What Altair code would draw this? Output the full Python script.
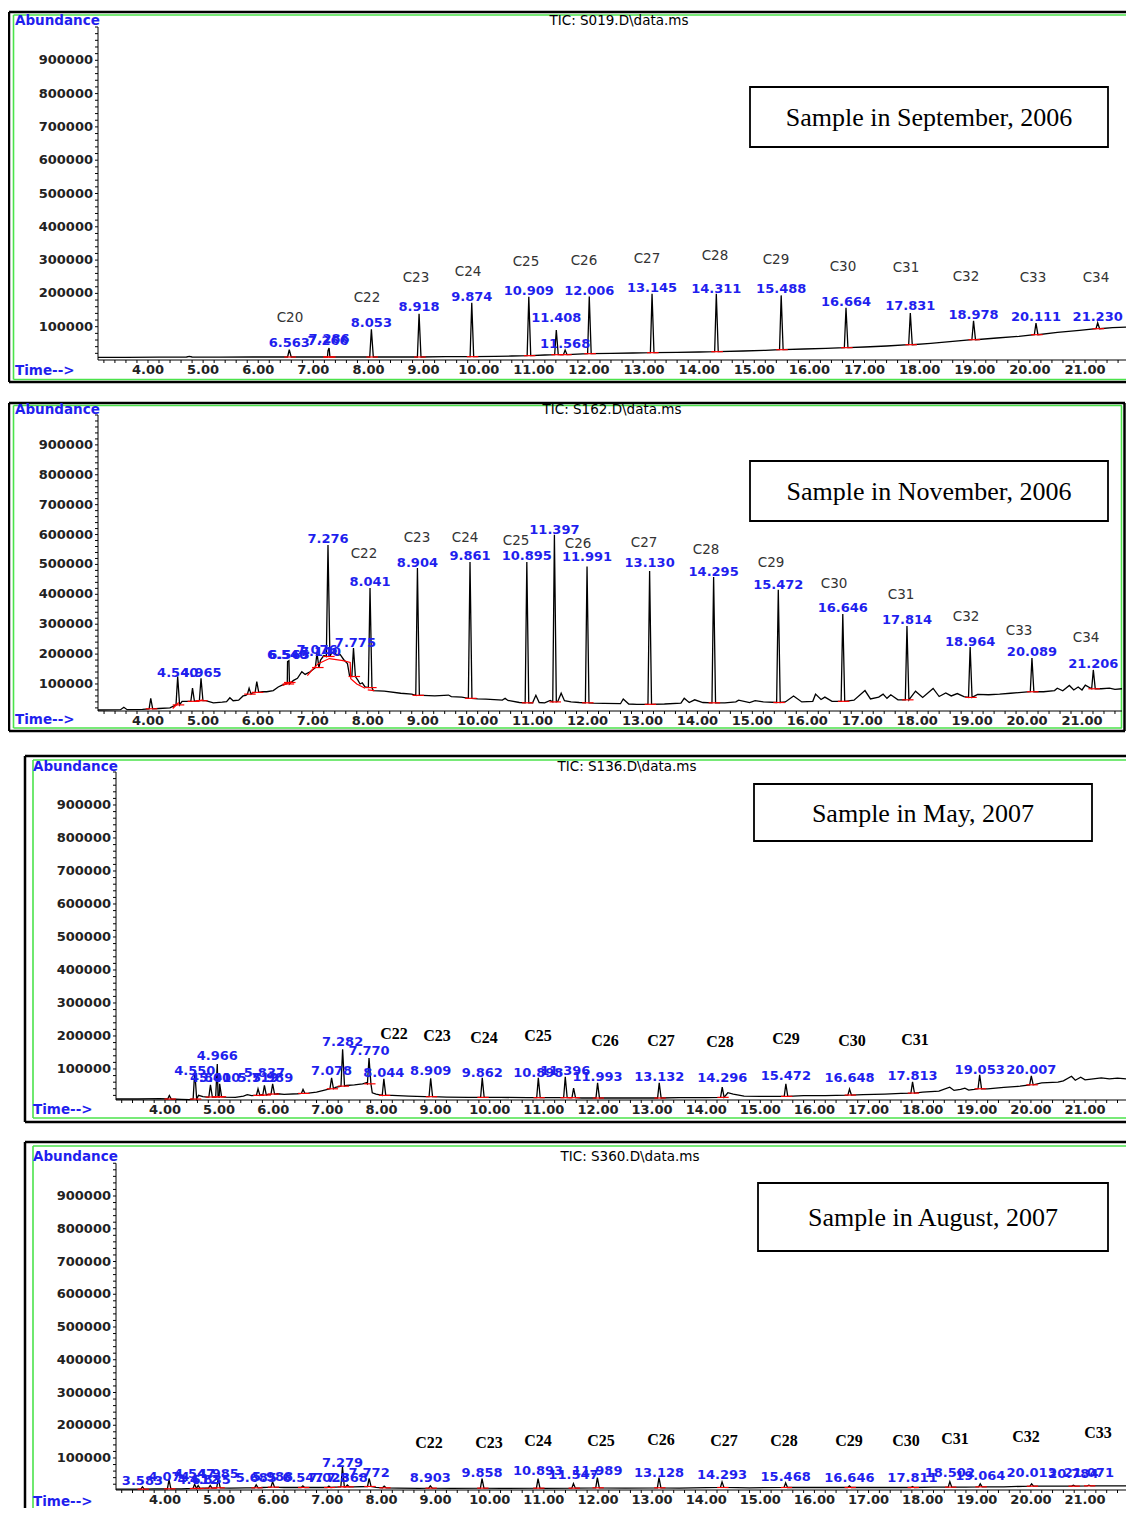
import altair as alt
import pandas as pd

BLUE = "#1f1fee"
GREEN = "#4be34b"
FONT = "DejaVu Sans"
SERIF = "Liberation Serif"
W = 1118
HT = 1500

# axis tick values (shared by all four chromatograms)
X_MINOR = [round(3.2 + 0.2 * i, 1) for i in range(94)]
X_LABELS = list(range(4, 22))
Y_MINOR = list(range(20000, 1000001, 20000))
Y_LABELS = list(range(100000, 900001, 100000))

# ---------------- Panel 1: Sample in September, 2006 ----------------
P1_TITLE = "TIC: S019.D\\data.ms"
P1_SAMPLE = "Sample in September, 2006"
P1_BASE = [(3.093, 8000), (3.6, 8000), (4.2, 8500), (4.7, 9000), (4.75, 11000), (4.8, 9000),
           (5.3, 8500), (5.9, 9000), (6.3, 9000), (6.9, 9000), (7.6, 9000), (8.4, 9000),
           (9.4, 10000), (10.3, 11000), (10.6, 12000), (11.2, 15000), (11.7, 17000),
           (12.4, 20000), (12.8, 21000), (13.6, 23000), (14.0, 24000), (14.8, 27000),
           (15.2, 29000), (15.9, 33000), (16.3, 35000), (17.0, 39000), (17.4, 42000),
           (18.2, 50000), (18.6, 56000), (19.4, 66000), (19.8, 71000), (20.5, 83000),
           (20.9, 89000), (21.5, 97000), (21.744, 99000)]
P1_PEAKS = [(6.563, 31000, 9000), (7.266, 28000, 9000), (7.286, 36000, 9000),
            (8.053, 92000, 9000), (8.918, 139000, 9000), (9.874, 172000, 10000),
            (10.909, 190000, 13000), (11.408, 90000, 16000), (11.568, 30000, 16000),
            (12.006, 191000, 19000), (13.145, 199000, 22000), (14.311, 199000, 25000),
            (15.488, 194000, 31000), (16.664, 157000, 37000), (17.831, 141000, 46000),
            (18.978, 118000, 61000), (20.111, 111000, 76000), (21.230, 112000, 94000)]
P1_LABELS = [("6.563", 52000), ("7.266", 56000), ("7.286", 64000), ("8.053", 112000),
             ("8.918", 160000), ("9.874", 190000), ("10.909", 208000), ("11.408", 127000),
             ("11.568", 49000), ("12.006", 208000), ("13.145", 217000), ("14.311", 214000),
             ("15.488", 214000), ("16.664", 175000), ("17.831", 163000), ("18.978", 136000),
             ("20.111", 130000), ("21.230", 130000)]
P1_CN = [("C20", 6.576, 127000), ("C22", 7.973, 187000), ("C23", 8.862, 247000),
         ("C24", 9.806, 265000), ("C25", 10.858, 295000), ("C26", 11.910, 298000),
         ("C27", 13.053, 304000), ("C28", 14.287, 313000), ("C29", 15.393, 301000),
         ("C30", 16.609, 280000), ("C31", 17.752, 277000), ("C32", 18.840, 250000),
         ("C33", 20.056, 247000), ("C34", 21.199, 247000)]

# ---------------- Panel 2: Sample in November, 2006 ----------------
P2_TITLE = "TIC: S162.D\\data.ms"
P2_SAMPLE = "Sample in November, 2006"
P2_BASE = [(3.09, 13000), (3.5, 14000), (3.56, 22000), (3.62, 14000), (3.9, 15000), (4.2, 18000),
           (4.4, 20000), (4.62, 42000), (4.72, 42000), (4.88, 43000), (5.05, 44000), (5.19, 37000),
           (5.35, 39000), (5.43, 41000), (5.49, 54000), (5.55, 44000), (5.65, 46000), (5.73, 60000),
           (5.78, 62000), (5.9, 70000), (6.08, 74000), (6.16, 74000), (6.28, 78000), (6.37, 90000),
           (6.44, 96000), (6.65, 112000), (6.72, 119000), (6.8, 141000), (6.86, 132000),
           (6.95, 141000), (7.14, 180000), (7.2, 195000), (7.34, 203000), (7.38, 208000),
           (7.44, 196000), (7.5, 198000), (7.56, 182000), (7.63, 168000), (7.67, 126000),
           (7.82, 113000), (7.86, 100000), (7.9, 104000), (7.95, 90000), (8.1, 78000),
           (8.3, 76000), (8.6, 69000), (8.8, 66000), (9.0, 62000), (9.22, 60000), (9.47, 63000),
           (9.52, 58000), (9.71, 56000), (10.0, 50000), (10.15, 49000), (10.45, 46000),
           (10.5, 52000), (10.55, 45000), (10.76, 38000), (11.0, 37000), (11.06, 62000),
           (11.12, 38000), (11.22, 37000), (11.32, 45000), (11.46, 42000), (11.52, 69000),
           (11.58, 44000), (11.7, 40000), (11.85, 38000), (12.1, 36000), (12.3, 35000),
           (12.6, 34000), (12.65, 50000), (12.75, 33000), (12.9, 32000), (13.4, 33000),
           (13.7, 36000), (13.76, 52000), (13.85, 38000), (13.95, 47000), (14.1, 38000),
           (14.5, 37000), (14.7, 40000), (14.75, 46000), (14.95, 38000), (15.05, 44000),
           (15.2, 40000), (15.6, 40000), (15.75, 60000), (15.9, 40000), (16.1, 42000),
           (16.15, 66000), (16.25, 48000), (16.32, 56000), (16.45, 42000), (16.85, 46000),
           (17.05, 78000), (17.15, 50000), (17.3, 56000), (17.38, 66000), (17.45, 52000),
           (17.52, 64000), (17.65, 47000), (17.97, 76000), (18.1, 55000), (18.29, 85000),
           (18.4, 58000), (18.52, 70000), (18.62, 60000), (18.73, 68000), (18.85, 58000),
           (19.1, 65000), (19.3, 64000), (19.5, 66000), (19.7, 69000), (19.9, 72000),
           (20.3, 74000), (20.5, 78000), (20.55, 86000), (20.65, 77000), (20.77, 95000),
           (20.85, 80000), (20.93, 90000), (21.0, 80000), (21.06, 96000), (21.35, 84000),
           (21.5, 86000), (21.6, 82000), (21.728, 84000)]
P2_PEAKS = [(4.05, 52000, 17000), (4.54, 125000, 30000), (4.81, 86000, 42000),
            (4.965, 119000, 44000), (5.84, 86000, 66000), (5.98, 108000, 72000),
            (6.54, 175000, 100000), (6.565, 178000, 105000), (7.076, 204000, 155000),
            (7.276, 565000, 192000), (7.74, 220000, 125000), (8.041, 421000, 88000),
            (8.904, 488000, 62000), (9.861, 508000, 52000), (10.895, 508000, 37000),
            (11.397, 599000, 40000), (11.991, 493000, 37000), (13.13, 478000, 32000),
            (14.295, 458000, 37000), (15.472, 415000, 38000), (16.646, 334000, 42000),
            (17.814, 294000, 47000), (18.964, 224000, 55000), (20.089, 187000, 74000),
            (21.206, 147000, 84000)]
P2_LABELS = [("4.540", 137000), ("4.965", 137000), ("6.540", 197000), ("6.565", 197000),
             ("7.076", 213000), ("7.140", 207000), ("7.276", 585000), ("7.775", 237000),
             ("8.041", 441000), ("8.904", 505000), ("9.861", 528000), ("10.895", 528000),
             ("11.397", 615000), ("11.991", 525000), ("13.130", 505000), ("14.295", 474000),
             ("15.472", 431000), ("16.646", 354000), ("17.814", 314000), ("18.964", 241000),
             ("20.089", 207000), ("21.206", 167000)]
P2_CN = [("C22", 7.931, 535000), ("C23", 8.896, 589000), ("C24", 9.770, 589000),
         ("C25", 10.698, 579000), ("C26", 11.827, 569000), ("C27", 13.028, 572000),
         ("C28", 14.157, 549000), ("C29", 15.340, 505000), ("C30", 16.487, 435000),
         ("C31", 17.706, 398000), ("C32", 18.889, 324000), ("C33", 19.854, 277000),
         ("C34", 21.073, 254000)]
P2_RED = [(1, 4.45, 18000), (1, 4.56, 38000), (2, 4.88, 42000), (2, 5.0, 47000),
          (3, 6.45, 95000), (3, 6.62, 108000), (4, 6.9, 128000), (4, 7.0, 150000),
          (4, 7.1, 168000), (4, 7.3, 185000), (4, 7.55, 178000), (4, 7.68, 172000),
          (4, 7.69, 118000), (4, 7.8, 100000), (4, 7.95, 86000), (5, 8.0, 80000), (5, 8.12, 78000)]

# ---------------- Panel 3: Sample in May, 2007 ----------------
P3_TITLE = "TIC: S136.D\\data.ms"
P3_SAMPLE = "Sample in May, 2007"
P3_BASE = [(3.095, 9000), (3.5, 9000), (3.9, 10000), (4.3, 8000), (4.45, 7000), (4.62, 20000),
           (4.7, 16000), (4.78, 15000), (4.9, 15000), (5.1, 15000), (5.3, 14000), (5.45, 18000),
           (5.52, 22000), (5.6, 19000), (5.66, 20000), (5.78, 22000), (5.9, 23000), (6.08, 25000),
           (6.2, 23000), (6.45, 25000), (6.65, 27000), (6.8, 30000), (6.95, 36000), (7.15, 44000),
           (7.35, 50000), (7.5, 52000), (7.65, 55000), (7.72, 58000), (7.83, 28000), (7.9, 24000),
           (8.2, 20000), (8.5, 18000), (8.8, 16000), (9.2, 15000), (9.6, 14000), (10.2, 14000),
           (10.7, 13000), (11.2, 13000), (11.7, 12000), (12.3, 12000), (12.7, 12000),
           (13.5, 13000), (14.0, 13000), (14.4, 28000), (14.5, 24000), (14.7, 18000),
           (15.0, 17000), (15.2, 17000), (15.8, 19000), (16.2, 19000), (16.4, 20000),
           (16.9, 22000), (17.3, 24000), (17.6, 26000), (18.0, 30000), (18.3, 33000),
           (18.5, 45000), (18.58, 35000), (18.7, 38000), (18.78, 42000), (18.85, 36000),
           (18.95, 38000), (19.2, 40000), (19.5, 44000), (19.8, 48000), (20.2, 58000),
           (20.5, 60000), (20.6, 64000), (20.75, 78000), (20.82, 66000), (20.92, 75000),
           (21.0, 67000), (21.15, 70000), (21.3, 73000), (21.45, 70000), (21.6, 72000),
           (21.757, 70000)]
P3_PEAKS = [(4.08, 20000, 9000), (4.55, 95000, 9000), (4.84, 52000, 15000), (4.966, 115000, 15000),
            (5.01, 55000, 16000), (5.719, 40000, 20000), (5.837, 50000, 21000), (5.989, 55000, 24000),
            (6.55, 38000, 26000), (7.078, 73000, 40000), (7.282, 160000, 48000),
            (7.77, 133000, 55000), (8.044, 70000, 20000), (8.909, 72000, 16000),
            (9.862, 73000, 14000), (10.898, 73000, 13000), (11.396, 76000, 13000),
            (11.55, 42000, 13000), (11.993, 58000, 12000), (13.132, 58000, 12000),
            (14.296, 45000, 14000), (15.472, 55000, 17000), (16.648, 39000, 21000),
            (17.813, 61000, 27000), (19.053, 82000, 40000), (20.007, 79000, 52000)]
P3_LABELS = [("4.550", 94000), ("4.840", 73000), ("4.966", 139000), ("5.010", 73000),
             ("5.719", 73000), ("5.837", 88000), ("5.989", 73000), ("7.078", 94000),
             ("7.282", 182000), ("7.770", 155000), ("8.044", 88000), ("8.909", 94000),
             ("9.862", 88000), ("10.898", 88000), ("11.396", 94000), ("11.993", 76000),
             ("13.132", 76000), ("14.296", 73000), ("15.472", 79000), ("16.648", 73000),
             ("17.813", 79000), ("19.053", 97000), ("20.007", 97000)]
P3_CN = [("C22", 8.231, 206000), ("C23", 9.026, 200000), ("C24", 9.894, 194000),
         ("C25", 10.892, 200000), ("C26", 12.130, 185000), ("C27", 13.165, 185000),
         ("C28", 14.255, 182000), ("C29", 15.475, 191000), ("C30", 16.694, 185000),
         ("C31", 17.858, 188000)]

# ---------------- Panel 4: Sample in August, 2007 ----------------
P4_TITLE = "TIC: S360.D\\data.ms"
P4_SAMPLE = "Sample in August, 2007"
P4_BASE = [(3.095, 5000), (3.4, 5000), (3.8, 6000), (4.3, 6000), (4.7, 8000), (5.2, 8000),
           (5.5, 9000), (5.8, 10000), (6.2, 10000), (6.8, 10000), (7.15, 11000), (7.5, 12000),
           (7.9, 10000), (8.3, 8000), (8.7, 7000), (9.3, 7000), (10.2, 7000), (11.0, 7000),
           (12.5, 8000), (13.5, 8000), (14.8, 9000), (15.8, 10000), (16.3, 10000), (17.3, 10000),
           (18.2, 11000), (18.8, 11000), (19.5, 12000), (20.4, 14000), (21.4, 15000), (21.757, 15000)]
P4_PEAKS = [(3.583, 12000, 5000), (4.074, 33000, 6000), (4.547, 20000, 7000), (4.612, 16000, 7000),
            (4.835, 16000, 8000), (4.985, 38000, 9000), (5.685, 18000, 9000), (5.988, 28000, 11000),
            (6.547, 15000, 10000), (7.028, 14000, 10000), (7.279, 72000, 12000), (7.368, 18000, 12000),
            (7.772, 38000, 13000), (8.05, 14000, 9000), (8.903, 15000, 8000), (9.858, 37000, 8000),
            (10.893, 37000, 8000), (11.547, 22000, 8000), (11.989, 40000, 9000),
            (13.128, 40000, 9000), (14.293, 27000, 10000), (15.468, 24000, 10000),
            (16.646, 15000, 10000), (17.811, 13000, 10000), (18.502, 28000, 11000),
            (19.064, 21000, 12000), (20.013, 21000, 14000), (20.784, 17000, 14000),
            (21.071, 17000, 15000)]
P4_LABELS = [("3.583", 30000), ("4.074", 42000), ("4.547", 51000), ("4.612", 33000),
             ("4.835", 33000), ("4.985", 51000), ("5.685", 39000), ("5.988", 42000),
             ("6.547", 39000), ("7.028", 39000), ("7.279", 85000), ("7.368", 39000),
             ("7.772", 54000), ("8.903", 39000), ("9.858", 54000), ("10.893", 60000),
             ("11.547", 48000), ("11.989", 60000), ("13.128", 54000), ("14.293", 48000),
             ("15.468", 42000), ("16.646", 39000), ("17.811", 39000), ("18.502", 54000),
             ("19.064", 45000), ("20.013", 54000), ("20.784", 51000), ("21.071", 54000)]
P4_CN = [("C22", 8.878, 146000), ("C23", 9.987, 146000), ("C24", 10.892, 152000),
         ("C25", 12.056, 152000), ("C26", 13.165, 155000), ("C27", 14.329, 152000),
         ("C28", 15.438, 152000), ("C29", 16.639, 152000), ("C30", 17.692, 152000),
         ("C31", 18.597, 158000), ("C32", 19.909, 164000), ("C33", 21.240, 176000)]

# ---------------- layout: pixel geometry of each panel in the whole drawing ----------------
G1 = dict(x0=90, x1=1118, t0=3.093, t1=21.744, yb=352, yt=19, a0=0, a1=1000000,
          black=[(1, 4, W, 4), (1, 4, 1, 374), (1, 374, W, 374)],
          green=[(5.5, 7, W, 7), (5.5, 7, 5.5, 371.5), (5.5, 371.5, W, 371.5)],
          abund=(7, 12.8), title=(611, 13), time=(7, 363), box=(742, 79, 1100, 139),
          cfont=(FONT, "normal", 13.5, "#333333"))
G2 = dict(x0=90, x1=1114, t0=3.0899, t1=21.728, yb=703, yt=407, a0=9600, a1=1000000,
          black=[(1, 395, 1117, 395), (1, 395, 1, 723), (1, 723, 1117, 723), (1116.5, 395, 1116.5, 723)],
          green=[(5.5, 397.5, 1114, 397.5), (5.5, 397.5, 5.5, 720), (5.5, 720, 1114, 720),
                 (1113.5, 397.5, 1113.5, 720)],
          abund=(7, 402), title=(604, 402), time=(7, 712), box=(742, 453, 1100, 513),
          cfont=(FONT, "normal", 13.5, "#333333"))
G3 = dict(x0=108, x1=1118, t0=3.0946, t1=21.757, yb=1092, yt=764, a0=6000, a1=1000000,
          black=[(17, 748, W, 748), (17, 748, 17, 1114), (17, 1114, W, 1114)],
          green=[(25, 752, W, 752), (25, 752, 25, 1110), (25, 1110, W, 1110)],
          abund=(25, 759), title=(619, 759), time=(25, 1102), box=(746, 776, 1084, 833),
          cfont=(SERIF, "bold", 16, "black"))
G4 = dict(x0=108, x1=1118, t0=3.0946, t1=21.757, yb=1482, yt=1155.25, a0=2300, a1=1000000,
          black=[(17, 1134, W, 1134), (17, 1134, 17, HT)],
          green=[(25, 1138, W, 1138), (25, 1138, 25, HT)],
          abund=(25, 1149), title=(622, 1149), time=(25, 1494), box=(750, 1175, 1100, 1243),
          cfont=(SERIF, "bold", 16, "black"))

ONE = pd.DataFrame({"k": [0]})


def rule(x1, y1, x2, y2, color, w):
    return alt.Chart(ONE).mark_rule(color=color, strokeWidth=w).encode(
        x=alt.value(x1), x2=alt.value(x2), y=alt.value(y1), y2=alt.value(y2))


def text(x, y, s, **kw):
    return alt.Chart(ONE).mark_text(text=s, **kw).encode(x=alt.value(x), y=alt.value(y))


def trace_df(base, peaks):
    rows = []
    for t, a in base:
        if all(abs(t - p[0]) > 0.045 for p in peaks):
            rows.append((t, a))
    for t, a, b in peaks:
        rows += [(t - 0.03, b), (t, a), (t + 0.035, b)]
    rows.sort()
    return pd.DataFrame(rows, columns=["t", "a"])


def panel(g, title, sample, base, peaks, labels, cns, red=None):
    xs = alt.Scale(domain=[g["t0"], g["t1"]], range=[g["x0"], g["x1"]], nice=False, zero=False)
    ys = alt.Scale(domain=[g["a0"], g["a1"]], range=[g["yb"], g["yt"]], nice=False, zero=False)
    X = lambda f: alt.X(f, scale=xs, axis=None)
    Y = lambda f: alt.Y(f, scale=ys, axis=None)
    layers = []
    for (x1, y1, x2, y2) in g["black"]:
        layers.append(rule(x1, y1, x2, y2, "black", 2.5))
    for (x1, y1, x2, y2) in g["green"]:
        layers.append(rule(x1, y1, x2, y2, GREEN, 1.6))
    bx = g["box"]
    layers.append(alt.Chart(ONE).mark_rect(fill="white", stroke="black", strokeWidth=1.8).encode(
        x=alt.value(bx[0]), x2=alt.value(bx[2]), y=alt.value(bx[1]), y2=alt.value(bx[3])))
    layers.append(text((bx[0] + bx[2]) / 2, (bx[1] + bx[3]) / 2 + 1, sample, font=SERIF,
                       fontSize=26, align="center", baseline="middle", color="black"))
    layers.append(text(g["abund"][0], g["abund"][1], "Abundance", font=FONT, fontSize=13.5,
                       fontWeight="bold", color=BLUE, align="left", baseline="middle"))
    layers.append(text(g["time"][0], g["time"][1], "Time-->", font=FONT, fontSize=13.5,
                       fontWeight="bold", color=BLUE, align="left", baseline="middle"))
    layers.append(text(g["title"][0], g["title"][1], title, font=FONT, fontSize=13.5,
                       color="black", align="center", baseline="middle"))

    # hand-drawn axes (domain lines, ticks, labels) through the panel's scales
    layers.append(rule(g["x0"], g["yt"], g["x0"], g["yb"], "black", 1))
    layers.append(rule(g["x0"], g["yb"], g["x1"], g["yb"], "black", 1))
    xm = pd.DataFrame({"t": [v for v in X_MINOR if g["t0"] <= v <= g["t1"]]})
    layers.append(alt.Chart(xm).mark_rule(color="black", strokeWidth=1).encode(
        x=X("t:Q"), y=alt.value(g["yb"]), y2=alt.value(g["yb"] + 3)))
    xl = pd.DataFrame({"t": X_LABELS, "s": ["%.2f" % v for v in X_LABELS]})
    layers.append(alt.Chart(xl).mark_text(font=FONT, fontWeight="bold", fontSize=13, color="#222222",
                                          align="center", baseline="top").encode(
        x=X("t:Q"), y=alt.value(g["yb"] + 4), text="s:N"))
    ym = pd.DataFrame({"a": [v for v in Y_MINOR if g["a0"] <= v <= g["a1"]]})
    layers.append(alt.Chart(ym).mark_rule(color="black", strokeWidth=1).encode(
        y=Y("a:Q"), x=alt.value(g["x0"] - 3), x2=alt.value(g["x0"])))
    yl = pd.DataFrame({"a": Y_LABELS, "s": [str(v) for v in Y_LABELS]})
    layers.append(alt.Chart(yl).mark_text(font=FONT, fontWeight="bold", fontSize=13, color="#222222",
                                          align="right", baseline="middle").encode(
        y=Y("a:Q"), x=alt.value(g["x0"] - 5), text="s:N"))

    tr = trace_df(base, peaks)
    layers.append(alt.Chart(tr).mark_line(color="black", strokeWidth=1.3).encode(
        x=X("t:Q"), y=Y("a:Q"), order="t:Q"))

    rd = pd.DataFrame([(t - 0.09, t + 0.12, b) for t, a, b in peaks], columns=["t", "t2", "a"])
    layers.append(alt.Chart(rd).mark_rule(color="red", strokeWidth=1.2).encode(
        x=X("t:Q"), x2="t2:Q", y=Y("a:Q")))
    if red is not None:
        rp = pd.DataFrame(red, columns=["g", "t", "a"])
        layers.append(alt.Chart(rp).mark_line(color="red", strokeWidth=1.2).encode(
            x=X("t:Q"), y=Y("a:Q"), detail="g:N", order="t:Q"))

    lb = pd.DataFrame([(s, float(s), a) for s, a in labels], columns=["s", "t", "a"])
    layers.append(alt.Chart(lb).mark_text(font=FONT, fontSize=13, fontWeight="bold", color=BLUE,
                                          align="center", baseline="middle").encode(
        x=X("t:Q"), y=Y("a:Q"), text="s:N"))

    cf = g["cfont"]
    cd = pd.DataFrame(cns, columns=["s", "t", "a"])
    layers.append(alt.Chart(cd).mark_text(font=cf[0], fontWeight=cf[1], fontSize=cf[2], color=cf[3],
                                          align="center", baseline="middle").encode(
        x=X("t:Q"), y=Y("a:Q"), text="s:N"))

    return alt.layer(*layers)


p1 = panel(G1, P1_TITLE, P1_SAMPLE, P1_BASE, P1_PEAKS, P1_LABELS, P1_CN)
p2 = panel(G2, P2_TITLE, P2_SAMPLE, P2_BASE, P2_PEAKS, P2_LABELS, P2_CN, red=P2_RED)
p3 = panel(G3, P3_TITLE, P3_SAMPLE, P3_BASE, P3_PEAKS, P3_LABELS, P3_CN)
p4 = panel(G4, P4_TITLE, P4_SAMPLE, P4_BASE, P4_PEAKS, P4_LABELS, P4_CN)

chart = alt.layer(p1, p2, p3, p4).resolve_scale(x="independent", y="independent").properties(
    width=W, height=HT, padding=0, background="white",
    autosize=alt.AutoSizeParams(type="none")
).configure_view(strokeWidth=0)

chart.save("out.html", embed_options={"renderer": "svg", "actions": False})
